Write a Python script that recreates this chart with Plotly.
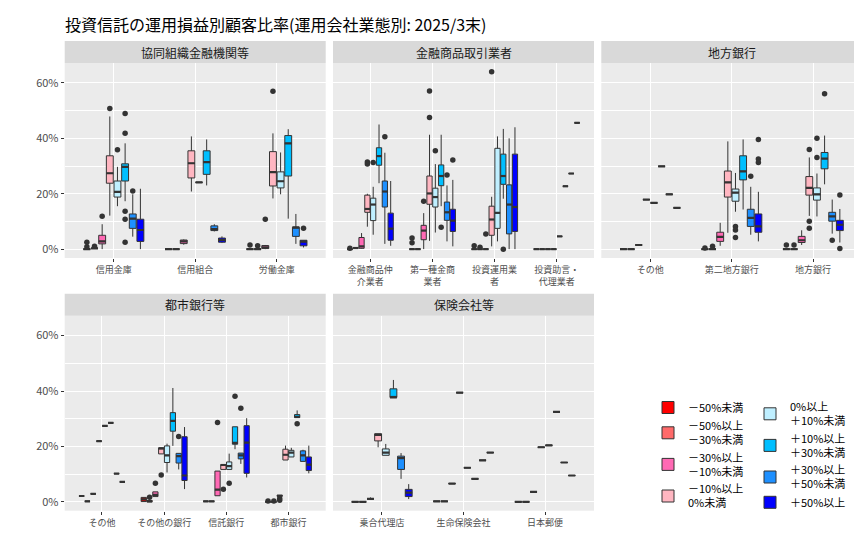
import plotly.graph_objects as go

W, H = 862, 545

groups = ["－50%未満", "－50%以上<br>－30%未満", "－30%以上<br>－10%未満", "－10%以上<br>0%未満",
          "0%以上<br>＋10%未満", "＋10%以上<br>＋30%未満", "＋30%以上<br>＋50%未満", "＋50%以上"]
colors = ["#FF0000", "#FF6A6A", "#FF69B4", "#FFB6C1", "#BFEFFF", "#00BFFF", "#1E90FF", "#0000FF"]

y_ticks = [0, 20, 40, 60]
y_labels = ["0%", "20%", "40%", "60%"]

# ---- 協同組織金融機関等 (rows = loss/gain groups, cols = categories, values in %)
cats_kyodo = ["信用金庫", "信用組合", "労働金庫"]
lo_kyodo = [[0, 0, 0], [0.3, 0, 0], [0, 1.6, 0], [12.1, 20.8, 18.3],
            [15.5, 24.1, 19.8], [17.3, 23.0, 11.0], [4.5, 6.4, 1.9], [0, 2.2, 0.6]]
q1_kyodo = [[0, 0, 0], [0.3, 0, 0], [1.9, 2.0, 0.2], [23.8, 25.7, 22.8],
            [18.8, 24.1, 22.1], [24.6, 27.0, 26.4], [7.5, 6.7, 4.6], [2.8, 2.5, 1.2]]
med_kyodo = [[0, 0, 0], [0.3, 0, 0], [2.8, 2.8, 0.6], [27.4, 31.0, 27.8],
             [20.7, 24.1, 24.5], [29.7, 31.4, 38.2], [11.0, 7.2, 7.9], [6.9, 3.3, 2.7]]
q3_kyodo = [[0, 0, 0], [0.3, 0, 0], [5.0, 3.3, 1.3], [33.7, 35.5, 35.2],
            [24.6, 24.1, 27.9], [30.8, 35.5, 41.0], [12.7, 8.4, 7.9], [10.8, 4.0, 3.2]]
hi_kyodo = [[0, 0, 0], [0.3, 0, 0], [9.0, 3.5, 1.5], [47.9, 40.7, 41.8],
            [29.7, 24.1, 34.9], [38.2, 39.6, 43.3], [19.8, 9.0, 12.7], [21.8, 4.6, 3.2]]
# outliers: (category index, group index, value)
out_kyodo = [(0, 0, 2.5), (0, 0, 0.9), (0, 1, 1.0), (0, 2, 11.9), (0, 3, 50.8), (0, 4, 35.9),
             (0, 5, 49.0), (0, 5, 41.8), (0, 5, 13.7), (0, 5, 10.8), (0, 5, 2.5), (0, 6, 21.0),
             (2, 0, 1.5), (2, 1, 1.2), (2, 2, 10.8), (2, 3, 57.0), (2, 7, 7.5)]

# ---- 金融商品取引業者
cats_kinsho = ["金融商品仲<br>介業者", "第一種金商<br>業者", "投資運用業<br>者", "投資助言・<br>代理業者"]
lo_kinsho = [[0, 0, 0, 0], [0.4, 0, 0, 0], [0.2, 0, 0, 0], [8.1, 3.0, 1.0, 0],
             [5.2, 6.0, 2.8, 4.6], [23.8, 15.5, 18.2, 22.7], [1.9, 2.8, 0, 27.3], [1.2, 1.0, 0, 45.6]]
q1_kinsho = [[0, 0, 0, 0], [0.4, 0, 0, 0], [0.3, 3.4, 0, 0], [13.3, 16.2, 5.0, 0],
             [10.3, 15.2, 7.5, 4.6], [30.3, 22.9, 23.4, 22.7], [15.2, 10.4, 5.5, 27.3], [3.2, 6.4, 6.4, 45.6]]
med_kinsho = [[0, 0, 0, 0], [0.4, 0, 0, 0], [1.0, 6.7, 0, 0], [14.5, 20.1, 10.7, 0],
              [16.1, 18.8, 13.1, 4.6], [33.6, 26.4, 26.4, 22.7], [20.8, 13.3, 16.1, 27.3], [7.4, 10.3, 15.2, 45.6]]
q3_kinsho = [[0, 0, 0, 0], [0.4, 0, 0, 0], [4.2, 8.6, 0, 0], [19.5, 26.4, 15.5, 0],
             [18.4, 22.0, 36.4, 4.6], [36.6, 30.4, 34.3, 22.7], [24.6, 17.0, 23.2, 27.3], [13.0, 14.4, 34.3, 45.6]]
hi_kinsho = [[0, 0, 0, 0], [0.4, 0, 0, 0], [5.8, 13.0, 0, 0], [20.0, 41.3, 18.9, 0],
             [22.5, 30.7, 40.7, 4.6], [45.0, 41.3, 43.4, 22.7], [34.8, 23.0, 40.0, 27.3], [24.6, 25.0, 44.0, 45.6]]
out_kinsho = [(0, 0, 0.3), (0, 3, 31.5), (0, 3, 30.7), (0, 4, 31.3), (0, 6, 40.6),
              (1, 0, 4.0), (1, 0, 2.3), (1, 2, 17.3), (1, 3, 57.1), (1, 3, 47.5), (1, 4, 35.5),
              (1, 5, 7.9), (1, 6, 26.8), (1, 7, 32.2),
              (2, 0, 1.2), (2, 1, 0.7), (2, 2, 5.5), (2, 3, 64.0), (2, 5, 0.0)]

# ---- 地方銀行
cats_chiho = ["その他", "第二地方銀行", "地方銀行"]
lo_chiho = [[0, 0, 0], [0, 0, 0], [1.5, 1.2, 1.5], [17.9, 5.9, 12.0],
            [16.7, 13.5, 11.8], [29.9, 14.3, 23.4], [19.8, 5.2, 5.6], [14.9, 2.8, 2.4]]
q1_chiho = [[0, 0, 0], [0, 0, 0], [1.5, 2.8, 2.4], [17.9, 18.8, 19.5],
            [16.7, 17.3, 17.7], [29.9, 25.0, 29.0], [19.8, 8.2, 10.1], [14.9, 6.1, 6.7]]
med_chiho = [[0, 0, 0], [0, 0, 0], [1.5, 4.4, 3.2], [17.9, 24.1, 22.1],
             [16.7, 20.4, 19.8], [29.9, 28.1, 32.7], [19.8, 11.3, 11.8], [14.9, 8.2, 8.8]]
q3_chiho = [[0, 0, 0], [0, 0, 0], [1.5, 6.1, 4.6], [17.9, 28.2, 26.2],
            [16.7, 21.7, 22.1], [29.9, 33.7, 34.9], [19.8, 14.4, 13.3], [14.9, 12.7, 10.4]]
hi_chiho = [[0, 0, 0], [0, 0, 0], [1.5, 9.5, 6.8], [17.9, 38.9, 33.1],
            [16.7, 27.5, 27.3], [29.9, 39.6, 41.0], [19.8, 22.5, 17.9], [14.9, 20.7, 14.5]]
out_chiho = [(1, 0, 0.4), (1, 1, 1.0), (1, 4, 8.2), (1, 4, 6.9), (1, 4, 4.2), (1, 6, 26.3),
             (1, 7, 39.6), (1, 7, 32.5), (1, 7, 31.3),
             (2, 0, 1.5), (2, 1, 1.5), (2, 3, 36.0), (2, 3, 10.1), (2, 3, 7.5), (2, 4, 40.0),
             (2, 4, 33.1), (2, 5, 56.1), (2, 6, 3.2), (2, 7, 19.5), (2, 7, 0.2)]

# ---- 都市銀行等
cats_toshi = ["その他", "その他の銀行", "信託銀行", "都市銀行"]
lo_toshi = [[2.1, 0.1, 0.2, 0], [0.2, 0, 0.2, 0], [2.9, 1.9, 2.2, 2.0], [21.9, 17.3, 11.7, 15.1],
            [27.4, 10.6, 11.7, 16.2], [28.5, 20.2, 19.0, 30.4], [10.2, 11.7, 13.7, 14.6], [7.2, 4.6, 8.8, 10.3]]
q1_toshi = [[2.1, 0.1, 0.2, 0], [0.2, 0, 0.2, 0], [2.9, 1.9, 2.2, 2.0], [21.9, 17.3, 11.7, 15.1],
            [27.4, 14.2, 11.7, 16.2], [28.5, 25.5, 20.8, 30.4], [10.2, 14.0, 15.5, 14.6], [7.2, 7.7, 10.3, 11.3]]
med_toshi = [[2.1, 0.9, 0.2, 0], [0.2, 0.2, 0.2, 0], [2.9, 2.5, 4.4, 2.2], [21.9, 19.3, 13.3, 17.0],
             [27.4, 16.8, 12.9, 17.8], [28.5, 29.2, 21.3, 30.7], [10.2, 16.5, 16.8, 16.8], [7.2, 9.5, 21.4, 13.4]]
q3_toshi = [[2.1, 1.6, 0.2, 0], [0.2, 0.5, 0.2, 0], [2.9, 3.6, 11.1, 2.4], [21.9, 19.5, 13.5, 19.0],
            [27.4, 20.2, 14.4, 18.6], [28.5, 32.2, 27.1, 31.5], [10.2, 17.5, 17.6, 18.4], [7.2, 23.5, 27.5, 16.2]]
hi_toshi = [[2.1, 1.6, 0.2, 0], [0.2, 0.5, 0.2, 0], [2.9, 3.6, 11.1, 2.4], [21.9, 19.5, 13.5, 20.3],
            [27.4, 21.0, 17.4, 19.5], [28.5, 41.1, 27.1, 33.0], [10.2, 17.5, 17.6, 18.8], [7.2, 27.0, 30.2, 20.3]]
out_toshi = [(1, 1, 1.7), (1, 2, 6.7), (1, 3, 9.7), (1, 6, 23.6), (2, 2, 28.6), (2, 3, 4.5),
             (2, 4, 6.7), (2, 5, 38.1), (2, 6, 33.8), (3, 0, 0.3), (3, 1, 0.3), (3, 2, 1.2),
             (3, 2, 0.6), (3, 5, 28.2)]

# ---- 保険会社等
cats_hoken = ["乗合代理店", "生命保険会社", "日本郵便"]
lo_hoken = [[0, 0.2, 0], [0, 0.2, 0], [1.1, 6.6, 3.6], [19.7, 39.4, 19.7],
            [16.8, 12.3, 20.4], [37.7, 8.3, 32.5], [8.3, 15.0, 14.2], [1.0, 17.8, 9.5]]
q1_hoken = [[0, 0.2, 0], [0, 0.2, 0], [1.1, 6.6, 3.6], [22.0, 39.4, 19.7],
            [16.8, 12.3, 20.4], [37.7, 8.3, 32.5], [11.7, 15.0, 14.2], [1.9, 17.8, 9.5]]
med_hoken = [[0, 0.2, 0], [0, 0.2, 0], [1.1, 6.6, 3.6], [24.2, 39.4, 19.7],
             [17.8, 12.3, 20.4], [37.7, 8.3, 32.5], [15.8, 15.0, 14.2], [3.3, 17.8, 9.5]]
q3_hoken = [[0, 0.2, 0], [0, 0.2, 0], [1.1, 6.6, 3.6], [24.6, 39.4, 19.7],
            [19.1, 12.3, 20.4], [40.8, 8.3, 32.5], [16.5, 15.0, 14.2], [4.5, 17.8, 9.5]]
hi_hoken = [[0, 0.2, 0], [0, 0.2, 0], [1.6, 6.6, 3.6], [24.6, 39.4, 19.7],
            [20.9, 12.3, 20.4], [44.0, 8.3, 32.5], [17.6, 15.0, 14.2], [6.4, 17.8, 9.5]]
out_hoken = []

facets = [
    ("協同組織金融機関等", cats_kyodo, lo_kyodo, q1_kyodo, med_kyodo, q3_kyodo, hi_kyodo, out_kyodo, 0, 0),
    ("金融商品取引業者", cats_kinsho, lo_kinsho, q1_kinsho, med_kinsho, q3_kinsho, hi_kinsho, out_kinsho, 0, 1),
    ("地方銀行", cats_chiho, lo_chiho, q1_chiho, med_chiho, q3_chiho, hi_chiho, out_chiho, 0, 2),
    ("都市銀行等", cats_toshi, lo_toshi, q1_toshi, med_toshi, q3_toshi, hi_toshi, out_toshi, 1, 0),
    ("保険会社等", cats_hoken, lo_hoken, q1_hoken, med_hoken, q3_hoken, hi_hoken, out_hoken, 1, 1),
]

# panel pixel boxes
col_px = [(56.7, 317.7), (325.0, 586.0), (593.3, 854.0)]
row_px = [(55.0, 250.0), (307.7, 502.7)]
strip_h = 22.0

FONT = "Noto Sans CJK JP"
DODGE = 0.75
NG = len(groups)
slot = DODGE / NG
bw = slot * 0.9


def pos(ci, g):
    return ci + 1 + (g - (NG - 1) / 2) * slot


fig = go.Figure()
layout_axes = {}
shapes = []
annotations = []

for fi, (title, cats, lo, q1, med, q3, hi, outs, r, c) in enumerate(facets):
    ax = "" if fi == 0 else str(fi + 1)
    xa, ya = "x" + ax, "y" + ax
    n = len(cats)
    for g in range(NG):
        xs = [pos(ci, g) for ci in range(n)]
        leg = "legend" if g < 4 else "legend2"
        fig.add_trace(go.Box(
            x=xs, q1=q1[g], median=med[g], q3=q3[g],
            lowerfence=lo[g], upperfence=hi[g],
            width=bw, whiskerwidth=0, boxpoints=False,
            fillcolor=colors[g], line=dict(color="#333333", width=1),
            name=groups[g], legendgroup=str(g), legend=leg,
            showlegend=(fi == 0), xaxis=xa, yaxis=ya, hoverinfo="skip",
        ))
    # thicker median lines (ggplot style)
    mx, my = [], []
    for g in range(NG):
        for ci in range(n):
            p = pos(ci, g)
            mx += [p - bw / 2, p + bw / 2, None]
            my += [med[g][ci], med[g][ci], None]
    fig.add_trace(go.Scatter(x=mx, y=my, mode="lines", line=dict(color="#333333", width=2.2),
                             showlegend=False, hoverinfo="skip", xaxis=xa, yaxis=ya))
    # outliers
    if outs:
        fig.add_trace(go.Scatter(
            x=[pos(ci, g) for ci, g, v in outs], y=[v for ci, g, v in outs],
            mode="markers", marker=dict(color="#333333", size=5.5),
            showlegend=False, hoverinfo="skip", xaxis=xa, yaxis=ya, cliponaxis=False))

    x0p, x1p = col_px[c]
    y0p, y1p = row_px[r]
    dom_x = [x0p / W, x1p / W]
    dom_y = [1 - y1p / H, 1 - y0p / H]
    layout_axes["xaxis" + ax] = dict(
        domain=dom_x, anchor=ya, range=[0.4, n + 0.6],
        tickvals=list(range(1, n + 1)), ticktext=cats,
        showgrid=True, gridcolor="white", gridwidth=1.1, zeroline=False,
        ticks="outside", ticklen=3, tickcolor="#333333", tickwidth=1,
        tickfont=dict(size=9, color="#4D4D4D", family=FONT), automargin=False,
    )
    layout_axes["yaxis" + ax] = dict(
        domain=dom_y, anchor=xa, range=[-3.2, 67.2],
        tickvals=y_ticks, ticktext=y_labels,
        showticklabels=(c == 0), ticks="outside" if c == 0 else "",
        ticklen=3, tickcolor="#333333", tickwidth=1,
        tickfont=dict(size=11, color="#4D4D4D", family=FONT),
        showgrid=True, gridcolor="white", gridwidth=1.1, zeroline=False,
        minor=dict(tickvals=[10, 30, 50], showgrid=True, gridcolor="white", gridwidth=0.55, ticks=""),
        automargin=False,
    )
    shapes.append(dict(type="rect", xref="paper", yref="paper",
                       x0=dom_x[0], x1=dom_x[1], y0=dom_y[1], y1=dom_y[1] + strip_h / H,
                       fillcolor="#D9D9D9", line=dict(width=0), layer="below"))
    annotations.append(dict(text=title, xref="paper", yref="paper",
                            x=(dom_x[0] + dom_x[1]) / 2, y=dom_y[1] + strip_h / 2 / H,
                            showarrow=False, xanchor="center", yanchor="middle",
                            font=dict(size=12, color="#1A1A1A", family=FONT)))

legend_style = dict(yanchor="middle", y=1 - 447 / H, xanchor="left",
                    font=dict(size=11, color="black", family=FONT), bgcolor="rgba(0,0,0,0)",
                    tracegroupgap=0, itemwidth=30)

fig.update_layout(
    width=W, height=H,
    margin=dict(l=0, r=0, t=0, b=0),
    paper_bgcolor="white", plot_bgcolor="#EBEBEB",
    font=dict(family=FONT),
    title=dict(text="投資信託の運用損益別顧客比率(運用会社業態別: 2025/3末)",
               x=57 / W, xanchor="left", y=1 - 17 / H, yanchor="middle",
               font=dict(size=16, color="black", family=FONT)),
    shapes=shapes, annotations=annotations,
    legend=dict(x=640 / W, **legend_style),
    legend2=dict(x=742 / W, **legend_style),
    **layout_axes,
)

fig.write_html("out.html")
